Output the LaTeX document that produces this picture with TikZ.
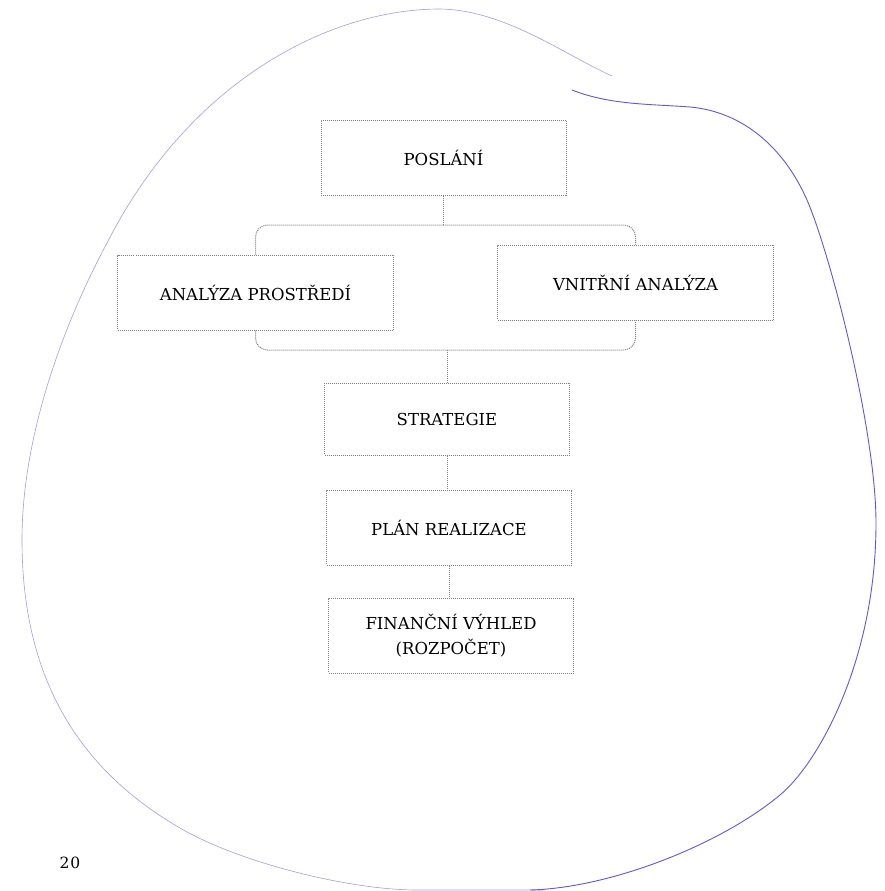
\documentclass[tikz,border=0pt]{standalone}
\usepackage{fontspec}
\setmainfont{DejaVu Serif}
\usepackage{tikz}

\begin{document}
\begin{tikzpicture}[x=1pt, y=-1pt,
        box/.style={draw=black!50, densely dotted, line width=1pt, fill=white,
            minimum height=75pt, align=center, font=\fontsize{16.5}{25}\selectfont},
        link/.style={draw=black!50, densely dotted, line width=1pt},
        pen/.style={line width=0.9pt, color={rgb,255:red,95;green,85;blue,232}},
        faintpen/.style={line width=0.6pt, color={rgb,255:red,160;green,155;blue,240}}]
        \pgfmathsetmacro{\midWidth}{245}
        \pgfmathsetmacro{\sideWidth}{276}
        \pgfmathsetmacro{\bracketTop}{225}
        \pgfmathsetmacro{\bracketBottom}{350}

        \useasboundingbox (0, 0) rectangle (884, 891);

        \draw[faintpen] (612, 76) .. controls (565, 55) and (505, 10) .. (440, 9)
            .. controls (330, 9) and (190, 80) .. (107, 243)
            .. controls (60, 331) and (22, 440) .. (22, 540)
            .. controls (22, 680) and (80, 770) .. (180, 828)
            .. controls (240, 863) and (350, 890) .. (417, 890)
            -- (545, 890);
        \draw[pen] (572, 90) .. controls (610, 105) and (650, 104) .. (690, 107)
            .. controls (745, 112) and (785, 150) .. (807, 200)
            .. controls (830, 253) and (876, 430) .. (876, 523)
            .. controls (876, 660) and (818.5, 763) .. (780, 795)
            .. controls (720, 845) and (610, 888) .. (530, 890);

        \node[box, minimum width=\midWidth] (mission) at (443.5, 157.5) {POSLÁNÍ};
        \node[box, minimum width=\sideWidth] (outer) at (255.5, 292.5) {ANALÝZA PROSTŘEDÍ};
        \node[box, minimum width=\sideWidth] (inner) at (635.5, 282.5) {VNITŘNÍ ANALÝZA};
        \node[box, minimum width=\midWidth, minimum height=72pt] (strategy) at (447, 419) {STRATEGIE};
        \node[box, minimum width=\midWidth] (plan) at (449, 527.5) {PLÁN REALIZACE};
        \node[box, minimum width=\midWidth] (budget) at (451, 635.5) {FINANČNÍ VÝHLED\\(ROZPOČET)};

        \coordinate (top) at (443, \bracketTop);
        \coordinate (bottom) at (447, \bracketBottom);

        \draw[link] (mission.south -| top) -- (top);
        \draw[link, rounded corners=12pt] (outer.north) |- (top) -| (inner.north);
        \draw[link, rounded corners=12pt] (outer.south) |- (bottom) -| (inner.south);
        \draw[link] (bottom) -- (strategy.north -| bottom);
        \draw[link] (strategy.south) -- (strategy.south |- plan.north);
        \draw[link] (plan.south) -- (plan.south |- budget.north);

        \node[font=\fontsize{15.5}{18}\selectfont] (pagenum) at (70, 863) {2\kern1pt0};
    \end{tikzpicture}
\end{document}
